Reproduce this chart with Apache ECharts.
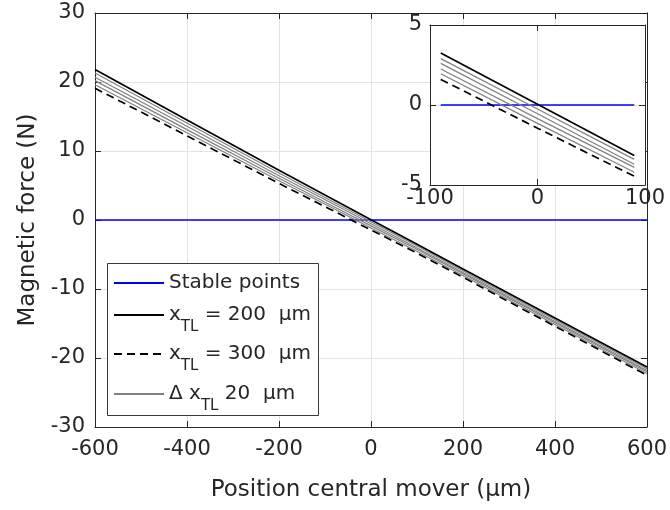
<!DOCTYPE html>
<html>
<head>
<meta charset="utf-8">
<script src="https://cdn.jsdelivr.net/npm/echarts@6/dist/echarts.min.js"></script>
<style>html,body{margin:0;padding:0;background:#fff}#c{width:670px;height:510px}</style>
</head>
<body>
<div id="c"></div>
<script>
// Positions of the central mover (µm)
const xPos = [-600, -400, -200, -90, 0, 90, 200, 400, 600];
// Magnetic force (N) per x_TL
const f200 = [21.8, 14.5, 7.2, 3.25, 0.05, -3.15, -7.1, -14.2, -21.3];
const f220 = [21.3, 14.05, 6.8, 2.9, -0.25, -3.4, -7.35, -14.45, -21.55];
const f240 = [20.7, 13.6, 6.4, 2.6, -0.55, -3.7, -7.6, -14.7, -21.8];
const f260 = [20.2, 13.1, 6.05, 2.25, -0.85, -3.9, -7.8, -14.9, -22.0];
const f280 = [19.6, 12.65, 5.7, 1.95, -1.15, -4.2, -8.05, -15.15, -22.25];
const f300 = [19.1, 12.2, 5.3, 1.6, -1.45, -4.45, -8.3, -15.4, -22.5];
const stableMainX = [-600, 600];
const stableInsetX = [-90, 90];
const stableY = [0, 0];
const insetRange = [-90, 90];

const FONT = 'DejaVu Sans';
const TXT = '#262626';
const GRID = '#e3e3e3';

function pts(xs, ys) { return xs.map((x, i) => [x, ys[i]]); }
function insetPts(ys) { return xPos.map((x, i) => [x, ys[i]]).filter(p => p[0] >= insetRange[0] && p[0] <= insetRange[1]); }

const greys = [f220, f240, f260, f280];
const series = [];
// main
series.push({name: 'Stable points', type: 'line', xAxisIndex: 0, yAxisIndex: 0, data: pts(stableMainX, stableY), symbol: 'none', lineStyle: {color: '#0000ff', width: 1.6}, itemStyle: {color: '#0000ff'}, z: 2});
greys.forEach(g => series.push({name: 'grey', type: 'line', xAxisIndex: 0, yAxisIndex: 0, data: pts(xPos, g), symbol: 'none', lineStyle: {color: '#808080', width: 1.2}, itemStyle: {color: '#808080'}, z: 2}));
series.push({name: 'x300', type: 'line', xAxisIndex: 0, yAxisIndex: 0, data: pts(xPos, f300), symbol: 'none', lineStyle: {color: '#000', width: 1.7, type: [8, 5]}, itemStyle: {color: '#000'}, z: 2});
series.push({name: 'x200', type: 'line', xAxisIndex: 0, yAxisIndex: 0, data: pts(xPos, f200), symbol: 'none', lineStyle: {color: '#000', width: 1.7}, itemStyle: {color: '#000'}, z: 2});
// inset
series.push({name: 'Stable points', type: 'line', xAxisIndex: 2, yAxisIndex: 2, data: pts(stableInsetX, stableY), symbol: 'none', lineStyle: {color: '#0000ff', width: 1.6}, z: 5});
greys.forEach(g => series.push({name: 'grey', type: 'line', xAxisIndex: 2, yAxisIndex: 2, data: insetPts(g), symbol: 'none', lineStyle: {color: '#808080', width: 1.2}, z: 5}));
series.push({name: 'x300', type: 'line', xAxisIndex: 2, yAxisIndex: 2, data: insetPts(f300), symbol: 'none', lineStyle: {color: '#000', width: 1.7, type: [8, 5]}, z: 5});
series.push({name: 'x200', type: 'line', xAxisIndex: 2, yAxisIndex: 2, data: insetPts(f200), symbol: 'none', lineStyle: {color: '#000', width: 1.7}, z: 5});

const tickIn = {show: true, inside: true, length: 6, lineStyle: {color: TXT, width: 1}};
const axLine = {show: true, onZero: false, lineStyle: {color: TXT, width: 1}};
const lbl = {color: TXT, fontFamily: FONT, fontSize: 21};

const main = {left: 95, right: 20, top: 13, bottom: 83};
const inset = {left: 430, right: 25, top: 25, bottom: 325};

const legRich = {s: {fontFamily: FONT, fontSize: 15, color: TXT, padding: [24, 0, 0, 0]}};
function legend(name, top, fmt) {
  return {data: [name], orient: 'vertical', left: 113, top: top, padding: 0, itemWidth: 50, itemHeight: 2,
    selectedMode: false, formatter: fmt, itemStyle: {opacity: 0},
    textStyle: {fontFamily: FONT, fontSize: 20, color: TXT, rich: legRich}};
}

const option = {
  animation: false,
  backgroundColor: '#fff',
  grid: [
    Object.assign({}, main),
    Object.assign({}, inset)
  ],
  xAxis: [
    {type: 'value', gridIndex: 0, min: -600, max: 600, interval: 200, axisLine: axLine, axisTick: tickIn,
      axisLabel: Object.assign({margin: 12}, lbl), splitLine: {show: true, lineStyle: {color: GRID}},
      name: 'Position central mover (µm)', nameLocation: 'middle', nameGap: 52,
      nameTextStyle: {color: TXT, fontFamily: FONT, fontSize: 23}},
    {type: 'value', gridIndex: 0, position: 'top', min: -600, max: 600, interval: 200, axisLine: axLine, axisTick: tickIn,
      axisLabel: {show: false}, splitLine: {show: false}},
    {type: 'value', gridIndex: 1, min: -100, max: 100, interval: 100, axisLine: axLine, axisTick: tickIn, z: 3,
      axisLabel: Object.assign({margin: 3}, lbl), splitLine: {show: true, lineStyle: {color: GRID}}},
    {type: 'value', gridIndex: 1, position: 'top', min: -100, max: 100, interval: 100, axisLine: axLine, axisTick: tickIn, z: 3,
      axisLabel: {show: false}, splitLine: {show: false}}
  ],
  yAxis: [
    {type: 'value', gridIndex: 0, min: -30, max: 30, interval: 10, axisLine: axLine, axisTick: tickIn,
      axisLabel: Object.assign({margin: 10}, lbl), splitLine: {show: true, lineStyle: {color: GRID}},
      name: 'Magnetic force (N)', nameLocation: 'middle', nameGap: 49,
      nameTextStyle: {color: TXT, fontFamily: FONT, fontSize: 23}},
    {type: 'value', gridIndex: 0, position: 'right', min: -30, max: 30, interval: 10, axisLine: axLine, axisTick: tickIn,
      axisLabel: {show: false}, splitLine: {show: false}},
    {type: 'value', gridIndex: 1, min: -5, max: 5, interval: 5, axisLine: axLine, axisTick: tickIn, z: 3,
      axisLabel: Object.assign({margin: 8}, lbl), splitLine: {show: true, lineStyle: {color: GRID}}},
    {type: 'value', gridIndex: 1, position: 'right', min: -5, max: 5, interval: 5, axisLine: axLine, axisTick: tickIn, z: 3,
      axisLabel: {show: false}, splitLine: {show: false}}
  ],
  legend: [
    legend('Stable points', 273, 'Stable points'),
    legend('x200', 305, 'x{s|TL} = 200  µm'),
    legend('x300', 344, 'x{s|TL} = 300  µm'),
    legend('grey', 384, 'Δ x{s|TL} 20  µm')
  ],
  graphic: [
    {type: 'rect', z: 1, shape: {x: 430, y: 25, width: 215, height: 160}, style: {fill: '#fff', stroke: null}},
    {type: 'rect', z: 1, shape: {x: 107.5, y: 263.5, width: 211, height: 152}, style: {fill: '#fff', stroke: '#3a3a3a', lineWidth: 1}}
  ],
  series: series
};

const chart = echarts.init(document.getElementById('c'), null, {renderer: 'canvas'});
chart.setOption(option);
</script>
</body>
</html>
